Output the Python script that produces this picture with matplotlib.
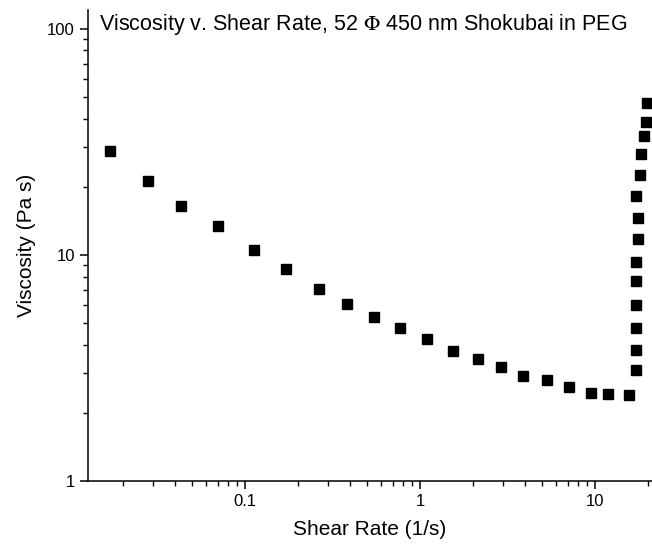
import numpy as np
import matplotlib
matplotlib.use("Agg")
import matplotlib.pyplot as plt
from matplotlib import ticker

# --- Data (shear rate 1/s, viscosity Pa s) ---
shear_rate = [0.0169, 0.0280, 0.0434, 0.0698, 0.113, 0.172, 0.265, 0.385, 0.546,
              0.77, 1.10, 1.55, 2.15, 2.90, 3.90, 5.30, 7.08, 9.53, 11.9, 15.7,
              17.2, 17.2, 17.2, 17.2, 17.2, 17.2, 17.6, 17.6, 17.2, 18.0,
              18.4, 19.2, 19.6, 19.9]
viscosity = [28.7, 21.2, 16.5, 13.4, 10.5, 8.61, 7.08, 6.05, 5.33,
             4.75, 4.25, 3.75, 3.45, 3.20, 2.90, 2.79, 2.61, 2.45, 2.43, 2.39,
             3.09, 3.81, 4.76, 5.99, 7.62, 9.25, 11.7, 14.6, 18.2, 22.5,
             27.8, 33.5, 38.5, 46.9]

title = r"Viscosity v. Shear Rate, 52 $\Phi$ 450 nm Shokubai in PEG"

plt.rcParams['font.family'] = ['Liberation Sans', 'DejaVu Sans']
plt.rcParams['mathtext.fontset'] = 'stix'

fig = plt.figure(figsize=(6.52, 5.46), dpi=100)
ax = fig.add_axes([0.135, 0.119, 0.865, 0.863])

ax.plot(shear_rate, viscosity, linestyle='none', marker='s',
        markersize=7, color='black', clip_on=False)

ax.set_xscale('log')
ax.set_yscale('log')
ax.set_xlim(0.0127, 21.2)
ax.set_ylim(1, 121)

fmt = ticker.FuncFormatter(lambda v, p: f"{v:g}")
ax.xaxis.set_major_formatter(fmt)
ax.yaxis.set_major_formatter(fmt)
ax.xaxis.set_minor_formatter(ticker.NullFormatter())
ax.yaxis.set_minor_formatter(ticker.NullFormatter())

for s in ['top', 'right']:
    ax.spines[s].set_visible(False)
for s in ['left', 'bottom']:
    ax.spines[s].set_linewidth(1.1)

ax.tick_params(which='major', direction='out', length=6, width=1.1, labelsize=12)
ax.tick_params(which='minor', direction='out', length=3.5, width=1.0)

ax.set_xlabel("Shear Rate (1/s)", fontsize=15, labelpad=8)
ax.set_ylabel("Viscosity (Pa s)", fontsize=15, labelpad=8)

ax.text(0.02, 0.995, title, transform=ax.transAxes, fontsize=15.5,
        ha='left', va='top')

fig.savefig("out.png", dpi=100)
